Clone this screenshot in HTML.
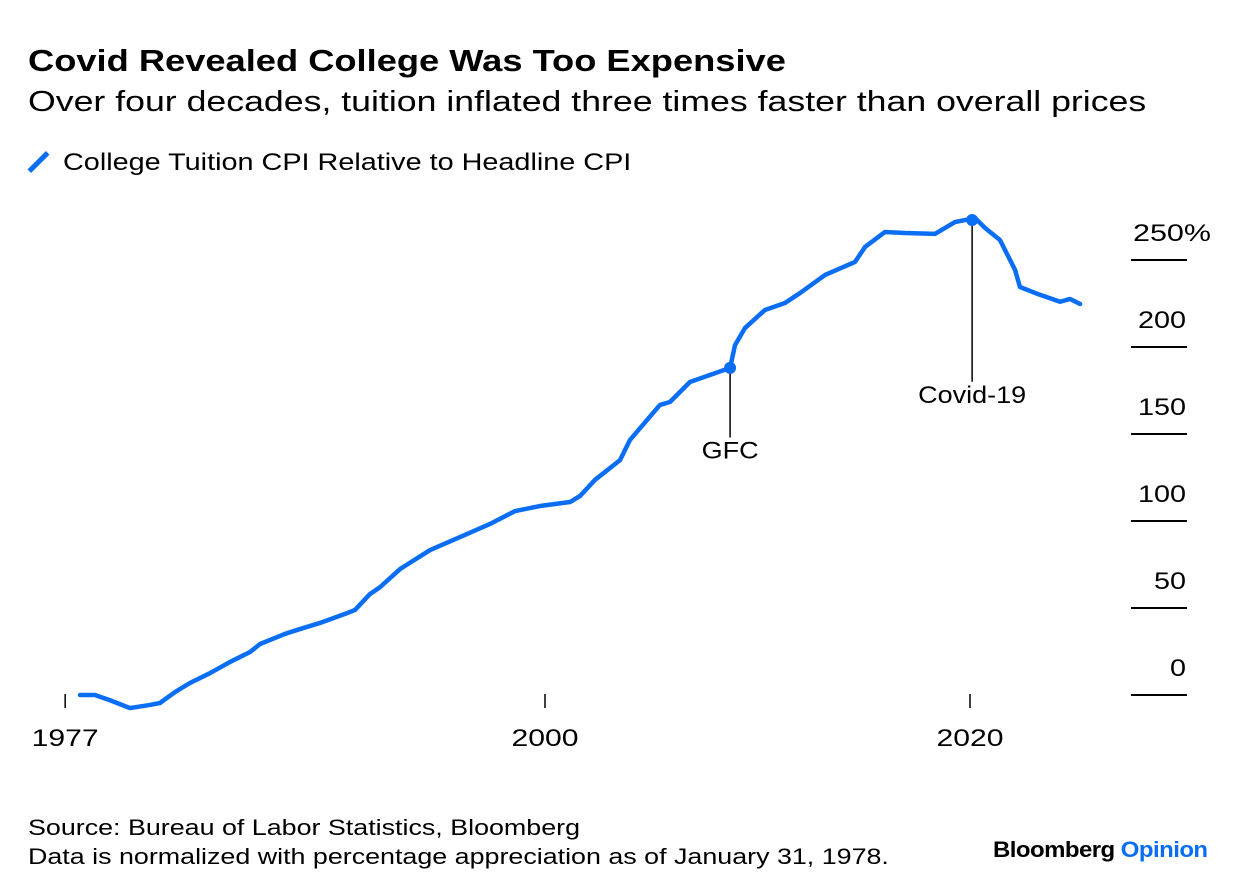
<!DOCTYPE html>
<html><head><meta charset="utf-8"><style>
body{margin:0;background:#fff;font-family:"Liberation Sans",sans-serif;}
#wrap{position:relative;width:1240px;height:894px;overflow:hidden}
.t{position:absolute;white-space:nowrap;color:#000;transform-origin:left top}
</style></head><body><div id="wrap">
<div class="t" style="left:28px;top:43px;font-size:31px;font-weight:bold;transform:scaleX(1.17)">Covid Revealed College Was Too Expensive</div>
<div class="t" style="left:28px;top:86px;font-size:29px;transform:scaleX(1.23)">Over four decades, tuition inflated three times faster than overall prices</div>
<div class="t" style="left:28px;top:149px;font-size:24px"><span style="display:inline-block;width:5px;height:26px;background:#0a6ef5;transform:rotate(45deg);margin:0 22px -5px 8px"></span><span style="display:inline-block;transform:scaleX(1.2);transform-origin:left">College Tuition CPI Relative to Headline CPI</span></div>
<svg id="svg" width="1240" height="894" style="position:absolute;left:0;top:0"></svg>
<div class="t" style="left:28px;top:813px;font-size:22px;line-height:29px;transform:scaleX(1.22)">Source: Bureau of Labor Statistics, Bloomberg<br>Data is normalized with percentage appreciation as of January 31, 1978.</div>
<div class="t" style="left:993px;top:837px;font-size:22px;font-weight:bold;letter-spacing:-0.5px;transform:scaleX(1.09)">Bloomberg <span style="color:#0a6ef5">Opinion</span></div>
</div>
<script>
const years=[1978.12,1978.82,1979.53,1980.47,1981.41,1981.88,1982.59,1983.29,1984.24,1985.18,1986.12,1986.59,1987.76,1988.47,1989.41,1990.59,1991.06,1991.76,1992.24,1993.18,1994.59,1996,1997.41,1998.59,1999.76,2001.18,2001.65,2002.35,2003.53,2004,2005.41,2005.88,2006.82,2007.76,2008.71,2008.94,2009.41,2010.35,2011.29,2012,2013.18,2014.59,2015.06,2016,2016.94,2018.35,2019.29,2020.24,2020.71,2021.41,2022.12,2022.35,2023.29,2024.24,2024.71,2025.18];
const values=[0,0,-3,-7.5,-5.7,-4.6,1.7,6.9,12.6,19,24.7,29.3,35.1,37.9,41.4,46.6,48.9,58,62,72.4,83.3,90.8,98.3,105.7,108.6,110.9,114.4,123.6,135,146.6,166.7,168.4,179.9,183.9,188,201,210.9,221.3,225.3,231,241.4,248.9,257.5,266.1,265.5,265,271.8,274.1,268.4,261.5,244.3,234.5,230,226,227.6,224.7];
const xTicks=[1977.42,2000,2020];
const xTickLabels=["1977","2000","2020"];
const yTicks=[0,50,100,150,200,250];
const yTickLabels=["0","50","100","150","200","250%"];
const annYears=[2008.71,2020.1];
const annValues=[188,273];
const annLabels=["GFC","Covid-19"];
const annLabelValues=[148,180];
const X=y=>545+(y-2000)*21.25, Y=v=>695-v*1.74;
const svg=document.getElementById('svg'),NS='http://www.w3.org/2000/svg';
function mk(t,a){const e=document.createElementNS(NS,t);for(const k in a)e.setAttribute(k,a[k]);svg.appendChild(e);return e;}
function txt(s,a){const t=mk('text',Object.assign({'font-size':24,'font-family':'Liberation Sans'},a));t.textContent=s;t.setAttribute('textLength',a.tl);t.setAttribute('lengthAdjust','spacingAndGlyphs');return t;}
yTicks.forEach((v,i)=>{
 const l=mk('line',{x1:1131,x2:1187,y1:Y(v),y2:Y(v),stroke:'#000','stroke-width':2});
 
 
 const s=yTickLabels[i];
 const w=s.endsWith('%')?78:s.length*16;
 const t=txt(s,{x:(i==5?1211:1186)-w,y:Y(v)-19,tl:w});
 
 
});
xTicks.forEach((yr,i)=>{
 const l=mk('line',{x1:X(yr),x2:X(yr),y1:694,y2:708,stroke:'#000','stroke-width':1.5});
 
 
 const w=67;
 const t=txt(xTickLabels[i],{x:X(yr)-w/2,y:746,tl:w});
 
 
});
annYears.forEach((yr,i)=>{
 const l=mk('line',{x1:X(yr),x2:X(yr),y1:Y(annValues[i]),y2:Y(annLabelValues[i]),stroke:'#000','stroke-width':1.5});
 
 
 const w=annLabels[i].length<4?57:108;
 const t=txt(annLabels[i],{x:X(yr)-w/2,y:Y(annLabelValues[i])+21,tl:w});
 
 
});
const p=mk('polyline',{points:years.map((y,i)=>X(y)+','+Y(values[i])).join(' '),fill:'none',stroke:'#0a6ef5','stroke-width':4.5,'stroke-linejoin':'round','stroke-linecap':'round'});


annYears.forEach((yr,i)=>{
 const c=mk('circle',{cx:X(yr),cy:Y(annValues[i]),r:6,fill:'#0a6ef5'});
 
 
});
</script></body></html>
